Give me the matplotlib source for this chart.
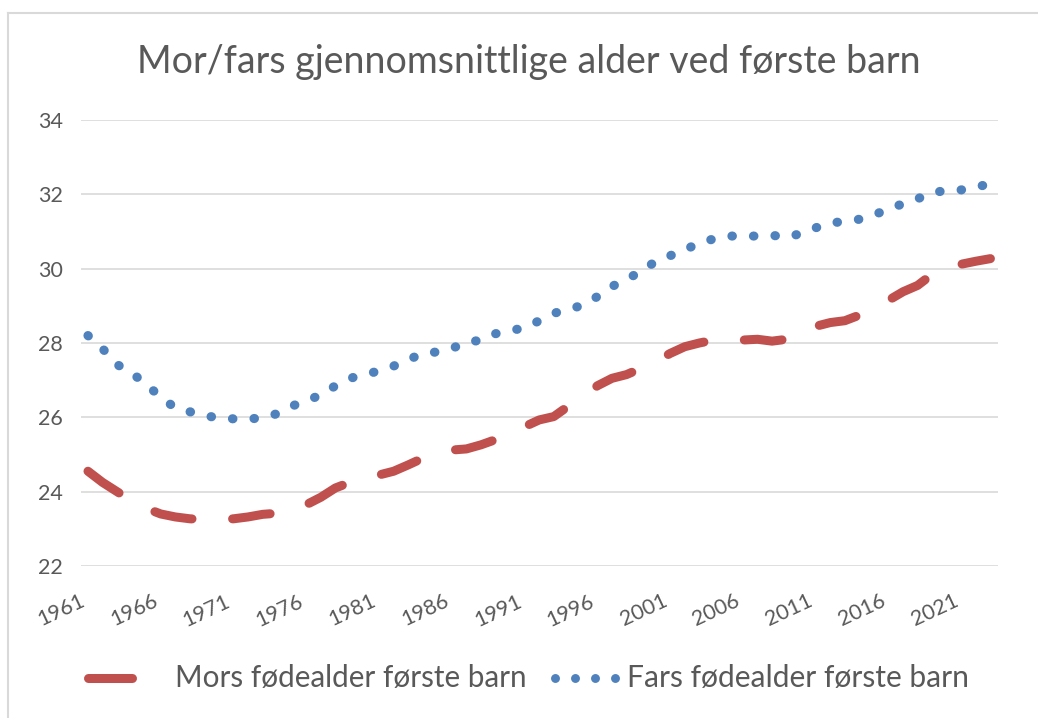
import matplotlib
matplotlib.use("Agg")
import matplotlib.pyplot as plt
from matplotlib.lines import Line2D

plt.rcParams["font.family"] = ["Lato", "DejaVu Sans"]

# Years 1961-2023
years = list(range(1961, 2024))

# Mother's average age at first birth
mor = [24.55, 24.25, 24.00, 23.75, 23.55, 23.40, 23.32, 23.27, 23.25, 23.25,
       23.27, 23.32, 23.39, 23.42, 23.50, 23.65, 23.85, 24.10, 24.25, 24.35,
       24.45, 24.55, 24.72, 24.90, 25.05, 25.12, 25.15, 25.26, 25.40, 25.58,
       25.75, 25.93, 26.02, 26.30, 26.55, 26.85, 27.05, 27.15, 27.32, 27.50,
       27.72, 27.90, 28.00, 28.08, 28.08, 28.08, 28.10, 28.05, 28.10, 28.20,
       28.45, 28.55, 28.60, 28.75, 28.93, 29.15, 29.38, 29.55, 29.85, 30.02,
       30.12, 30.20, 30.27]

# Father's average age at first birth
far = [28.20, 27.85, 27.42, 27.20, 26.88, 26.55, 26.25, 26.15, 26.05, 25.98,
       25.96, 25.96, 25.98, 26.10, 26.30, 26.45, 26.60, 26.85, 27.05, 27.15,
       27.25, 27.38, 27.55, 27.72, 27.76, 27.85, 28.03, 28.07, 28.25, 28.34,
       28.40, 28.60, 28.80, 28.90, 29.02, 29.25, 29.52, 29.72, 29.92, 30.20,
       30.35, 30.50, 30.70, 30.80, 30.88, 30.87, 30.88, 30.90, 30.84, 30.95,
       31.10, 31.23, 31.27, 31.33, 31.45, 31.60, 31.75, 31.88, 32.05, 32.10,
       32.12, 32.20, 32.28]

title = "Mor/fars gjennomsnittlige alder ved første barn"
label_mor = "Mors fødealder første barn"
label_far = "Fars fødealder første barn"

red = "#C0504D"
blue = "#4F81BD"
grey_text = "#595959"
grid_col = "#D9D9D9"

W, H = 1038, 718
fig = plt.figure(figsize=(W / 100, H / 100), dpi=100)

ax = fig.add_axes([80.7 / W, 1 - 566 / H, 917 / W, 446 / H])

x = list(range(len(years)))
ax.plot(x, mor, color=red, lw=6.5, linestyle=(0, (4.2, 4.5)),
        dash_capstyle="round", solid_capstyle="round")
ax.plot(x, far, color=blue, lw=6.6, linestyle=(0, (0.05, 2.3)),
        dash_capstyle="round")

ax.set_xlim(-0.5, len(years) - 0.5)
ax.set_ylim(22, 34)
ax.set_yticks(range(22, 35, 2))
ax.set_xticks(x[::5])
ax.set_xticklabels([str(y) for y in years[::5]], rotation=25, ha="right")

ax.grid(axis="y", color=grid_col, lw=1.2)
ax.set_axisbelow(True)
for s in ax.spines.values():
    s.set_visible(False)
ax.tick_params(axis="y", length=0, pad=13, labelsize=15.5, labelcolor=grey_text)
ax.tick_params(axis="x", length=0, pad=18, labelsize=15.5, labelcolor=grey_text)

fig.text(529 / W, 1 - 62 / H, title, ha="center", va="center",
         fontsize=27, color=grey_text)

# legend, drawn in figure pixels
ly = 1 - 678 / H
fig.add_artist(Line2D([88 / W, 132 / W], [ly, ly], color=red, lw=6.5,
                      solid_capstyle="round"))
fig.text(175 / W, ly, label_mor, ha="left", va="center", fontsize=21.3,
         color=grey_text)
fig.add_artist(Line2D([555 / W, 575 / W, 595 / W, 615 / W], [ly] * 4,
                      color=blue, linestyle="none", marker="o",
                      markersize=6.4, markeredgewidth=0))
fig.text(627 / W, ly, label_far, ha="left", va="center", fontsize=21.6,
         color=grey_text)

# chart border (top and left)
fig.add_artist(Line2D([7.5 / W, 1], [1 - 12.5 / H, 1 - 12.5 / H],
                      color=grid_col, lw=1.5))
fig.add_artist(Line2D([7.5 / W, 7.5 / W], [0, 1 - 12.5 / H],
                      color=grid_col, lw=1.5))

fig.savefig("out.png", dpi=100, facecolor="white")
